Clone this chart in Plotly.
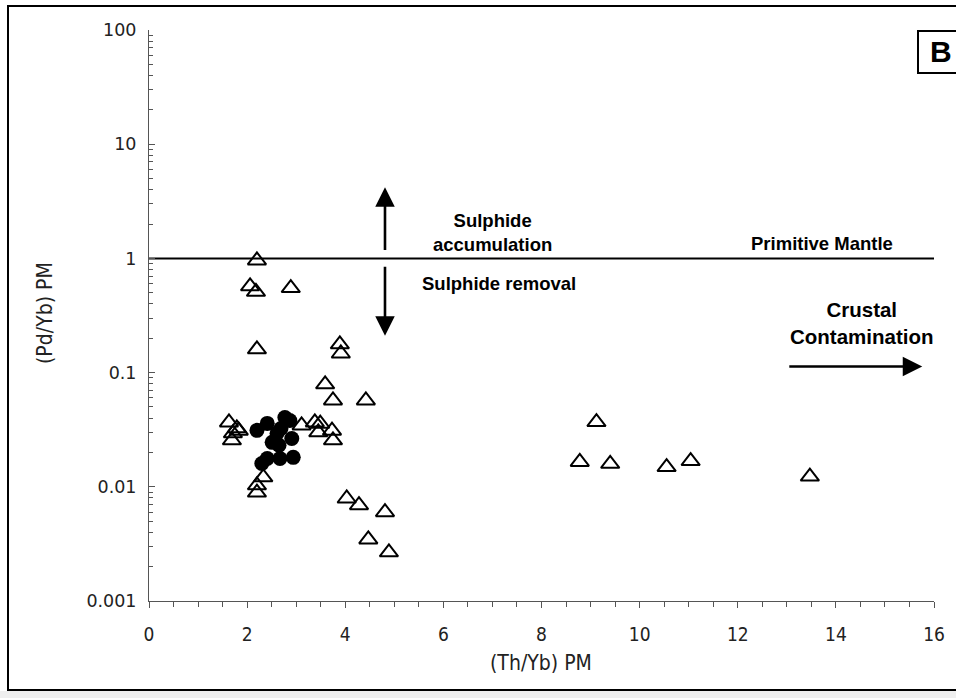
import math
import plotly.graph_objects as go

# (Th/Yb)PM vs (Pd/Yb)PM
tri_x = [2.20, 2.06, 2.18, 2.89, 2.20, 3.89, 3.91, 3.59, 3.75, 4.42,
         1.63, 1.79, 1.83, 1.71, 1.69, 3.11, 3.38, 3.49, 3.45, 3.73, 3.75,
         2.33, 2.20, 2.20, 4.03, 4.28, 4.81, 4.47, 4.89,
         9.12, 8.78, 9.40, 10.55, 11.04, 13.47]
tri_y = [0.96, 0.57, 0.51, 0.55, 0.16, 0.177, 0.147, 0.079, 0.057, 0.057,
         0.0366, 0.0325, 0.031, 0.0294, 0.0255, 0.0345, 0.0366, 0.0357, 0.030, 0.031, 0.0255,
         0.0121, 0.0103, 0.0089, 0.0079, 0.0069, 0.0060, 0.00346, 0.00267,
         0.0369, 0.0165, 0.0159, 0.0149, 0.0168, 0.0123]

dot_x = [2.20, 2.41, 2.77, 2.87, 2.61, 2.51, 2.91, 2.69, 2.65, 2.67, 2.94, 2.30, 2.41]
dot_y = [0.0312, 0.0359, 0.0405, 0.0381, 0.0294, 0.0245, 0.0265, 0.0324, 0.0231, 0.0177, 0.0181, 0.0160, 0.0177]

x_ticks = [0, 2, 4, 6, 8, 10, 12, 14, 16]
y_ticks = [0.001, 0.01, 0.1, 1, 10, 100]
y_tick_text = ["0.001", "0.01", "0.1", "1", "10", "100"]

pm_x = [0, 16]
pm_y = [1, 1]

# arrow endpoints (tail, head)
up_arrow = ((4.81, 1.15), (4.81, 4.2))
down_arrow = ((4.81, 0.87), (4.81, 0.21))
crust_arrow = ((13.02, 0.113), (15.76, 0.113))

L, R, T, B = 149, 22, 30, 97
W, H = 956, 698
pw, ph = W - L - R, H - T - B


def px(xp):
    return (xp - L) / pw


def py(yp):
    return (H - B - yp) / ph


fig = go.Figure()

fig.add_trace(go.Scatter(x=pm_x, y=pm_y, mode="lines",
                         line=dict(color="black", width=2), hoverinfo="skip"))
fig.add_trace(go.Scatter(x=tri_x, y=tri_y, mode="markers",
                         marker=dict(symbol="triangle-up-open", size=16,
                                     color="black", line=dict(width=2, color="black"))))
fig.add_trace(go.Scatter(x=dot_x, y=dot_y, mode="markers",
                         marker=dict(symbol="circle", size=15, color="black")))

ann = []
for (tx, ty), (hx, hy) in (up_arrow, down_arrow, crust_arrow):
    ann.append(dict(x=hx, y=math.log10(hy), ax=tx, ay=math.log10(ty),
                    xref="x", yref="y", axref="x", ayref="y",
                    showarrow=True, arrowhead=2, arrowsize=1.5, arrowwidth=2.6,
                    arrowcolor="black", text=""))

bold_face = "Liberation Sans, Arial, sans-serif"
bold = dict(family=bold_face, size=18.5, color="black")
narrow = "Liberation Sans Narrow, DejaVu Sans Condensed, sans-serif"


def label(xp, yp, text, font, **kw):
    return dict(x=px(xp), y=py(yp), xref="paper", yref="paper", showarrow=False,
                xanchor="center", yanchor="middle", text=text, font=font, **kw)


ann += [
    label(492, 232, "<b>Sulphide<br>accumulation</b>", bold, align="center"),
    label(499, 283, "<b>Sulphide removal</b>", bold),
    label(822, 243, "<b>Primitive Mantle</b>", bold),
    label(862, 323, "<b>Crustal<br>Contamination</b>",
          dict(family=bold_face, size=20.5, color="black"), align="center"),
    label(941, 52, "<b>B</b>", dict(family=bold_face, size=30, color="black")),
    label(541, 663, "(Th/Yb) PM", dict(family=narrow, size=21, color="#222")),
    label(45, 313, "(Pd/Yb) PM", dict(family=narrow, size=21, color="#222"),
          textangle=-90),
]

shapes = [
    # outer frame
    dict(type="rect", xref="paper", yref="paper",
         x0=px(8), x1=px(962), y0=py(690), y1=py(6),
         line=dict(color="black", width=2), layer="below"),
    # light band along the bottom edge
    dict(type="rect", xref="paper", yref="paper",
         x0=px(0), x1=px(960), y0=py(700), y1=py(691),
         line=dict(width=0), fillcolor="#efefef", layer="below"),
    # panel letter box
    dict(type="rect", xref="paper", yref="paper",
         x0=px(918), x1=px(962), y0=py(73), y1=py(31),
         line=dict(color="black", width=2), fillcolor="white", layer="below"),
]

fig.update_layout(
    width=W, height=H,
    margin=dict(l=L, r=R, t=T, b=B, autoexpand=False),
    paper_bgcolor="white", plot_bgcolor="rgba(0,0,0,0)",
    showlegend=False,
    annotations=ann,
    shapes=shapes,
)

fig.update_xaxes(
    range=[0, 16], tickvals=x_ticks, showgrid=False, zeroline=False,
    showline=True, linecolor="#555", linewidth=1,
    ticks="outside", ticklen=6, tickcolor="#555", tickwidth=1,
    minor=dict(dtick=0.5, ticks="outside", ticklen=5, tickcolor="#555", showgrid=False),
    tickfont=dict(family=narrow, size=19, color="#222"),
    ticklabelstandoff=10, automargin=False,
)
fig.update_yaxes(
    type="log", range=[-3, 2], tickvals=y_ticks, ticktext=y_tick_text,
    showgrid=False, zeroline=False,
    showline=True, linecolor="#555", linewidth=1,
    ticks="inside", ticklen=6, tickcolor="#555", tickwidth=1,
    minor=dict(dtick="D1", ticks="inside", ticklen=4, tickcolor="#555", showgrid=False),
    tickfont=dict(family="DejaVu Sans, sans-serif", size=17.5, color="#222"),
    ticklabelstandoff=8, automargin=False,
)

fig.write_html("out.html")
